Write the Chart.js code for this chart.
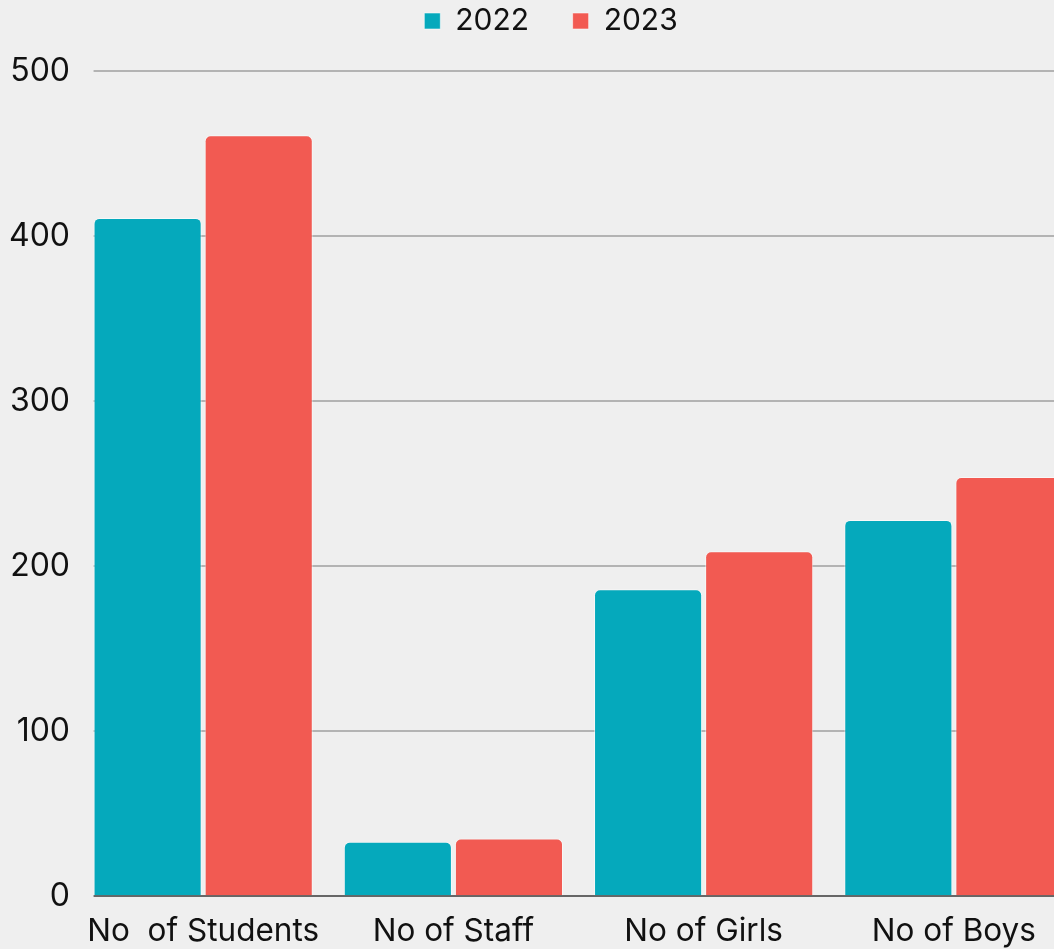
<!DOCTYPE html>
<html>
<head>
<meta charset="utf-8">
<script src="https://cdn.jsdelivr.net/npm/chart.js@4"></script>
<style>
    html, body { margin: 0; padding: 0; background: #efefef; overflow: hidden; }
    #wrap { width: 1054px; height: 949px; overflow: hidden; position: relative; }
    /* the reference is cropped on the right and bottom, so the canvas is a bit bigger */
    #box { position: absolute; left: -6px; top: 0; width: 1100px; height: 966px; }
</style>
</head>
<body>
<div id="wrap"><div id="box"><canvas id="chart"></canvas></div></div>
<script>
// ===== DATA =====
const categories = ["No  of Students", "No of Staff", "No of Girls", "No of Boys"];
const series2022 = [411, 33, 186, 228];
const series2023 = [461, 35, 209, 254];
const seriesNames = ["2022", "2023"];
const yTicks = [0, 100, 200, 300, 400, 500];

const TEAL = "#05a9bc";
const RED = "#f25a52";
const BG = "#efefef";
const FONT = "Inter";

// grid lines in the reference start where the first bar starts, not at the axis
const trimGridLeft = {
    id: "trimGridLeft",
    beforeDatasetsDraw(chart) {
        const { ctx, chartArea } = chart;
        const firstBar = chart.getDatasetMeta(0).data[0];
        const left = firstBar.x - firstBar.width / 2;
        ctx.save();
        ctx.fillStyle = BG;
        ctx.fillRect(chartArea.left - 2, chartArea.top - 3, left - chartArea.left + 2, chartArea.bottom - chartArea.top + 6);
        ctx.restore();
    }
};

new Chart(document.getElementById("chart"), {
    type: "bar",
    data: {
        labels: categories,
        datasets: [
            { label: seriesNames[0], data: series2022, backgroundColor: TEAL },
            { label: seriesNames[1], data: series2023, backgroundColor: RED },
        ].map(d => Object.assign(d, {
            borderColor: "rgba(255,255,255,0.55)",
            borderWidth: 1,
            borderRadius: 6,
            barPercentage: 0.973,
            categoryPercentage: 0.888,
        })),
    },
    plugins: [trimGridLeft],
    options: {
        responsive: true,
        maintainAspectRatio: false,
        animation: false,
        layout: { padding: { top: 0, right: 15, left: 7, bottom: 0 } },
        plugins: {
            tooltip: { enabled: false },
            legend: {
                position: "top",
                weight: 3000,
                labels: {
                    boxWidth: 16,
                    boxHeight: 16,
                    padding: 6,
                    color: "#111",
                    font: { family: FONT, size: 30 },
                    generateLabels(chart) {
                        const items = Chart.defaults.plugins.legend.labels.generateLabels(chart);
                        // wider gap between the two legend entries
                        items[0].text += "\u2003\u2005";
                        items[items.length - 1].text += "\u2002";
                        // invisible spacer so the legend sits a little right of centre, like the reference
                        const spacer = { text: "", fillStyle: "rgba(0,0,0,0)", strokeStyle: "rgba(0,0,0,0)", lineWidth: 0, hidden: false, datasetIndex: -1 };
                        return [spacer, ...items];
                    },
                },
                onClick: () => {},
            },
            // empty title used as spacer between legend and plot
            title: {
                display: true,
                text: "",
                position: "top",
                font: { size: 1, lineHeight: 1 },
                padding: { top: 0, bottom: 24 },
            },
        },
        scales: {
            x: {
                grid: { display: false, drawTicks: false },
                border: { display: false },
                ticks: {
                    color: "#111",
                    padding: 16,
                    autoSkip: false,
                    maxRotation: 0,
                    font: { family: FONT, size: 31.5 },
                },
            },
            y: {
                min: 0,
                max: 500,
                afterBuildTicks: axis => { axis.ticks = yTicks.map(v => ({ value: v })); },
                grid: {
                    color: ctx => ctx.tick && ctx.tick.value === 0 ? "#666" : "#b3b3b3",
                    lineWidth: 2,
                    drawTicks: false,
                },
                border: { display: false },
                ticks: {
                    color: "#111",
                    padding: 8,
                    font: { family: FONT, size: 32 },
                },
            },
        },
    },
});
</script>
</body>
</html>
